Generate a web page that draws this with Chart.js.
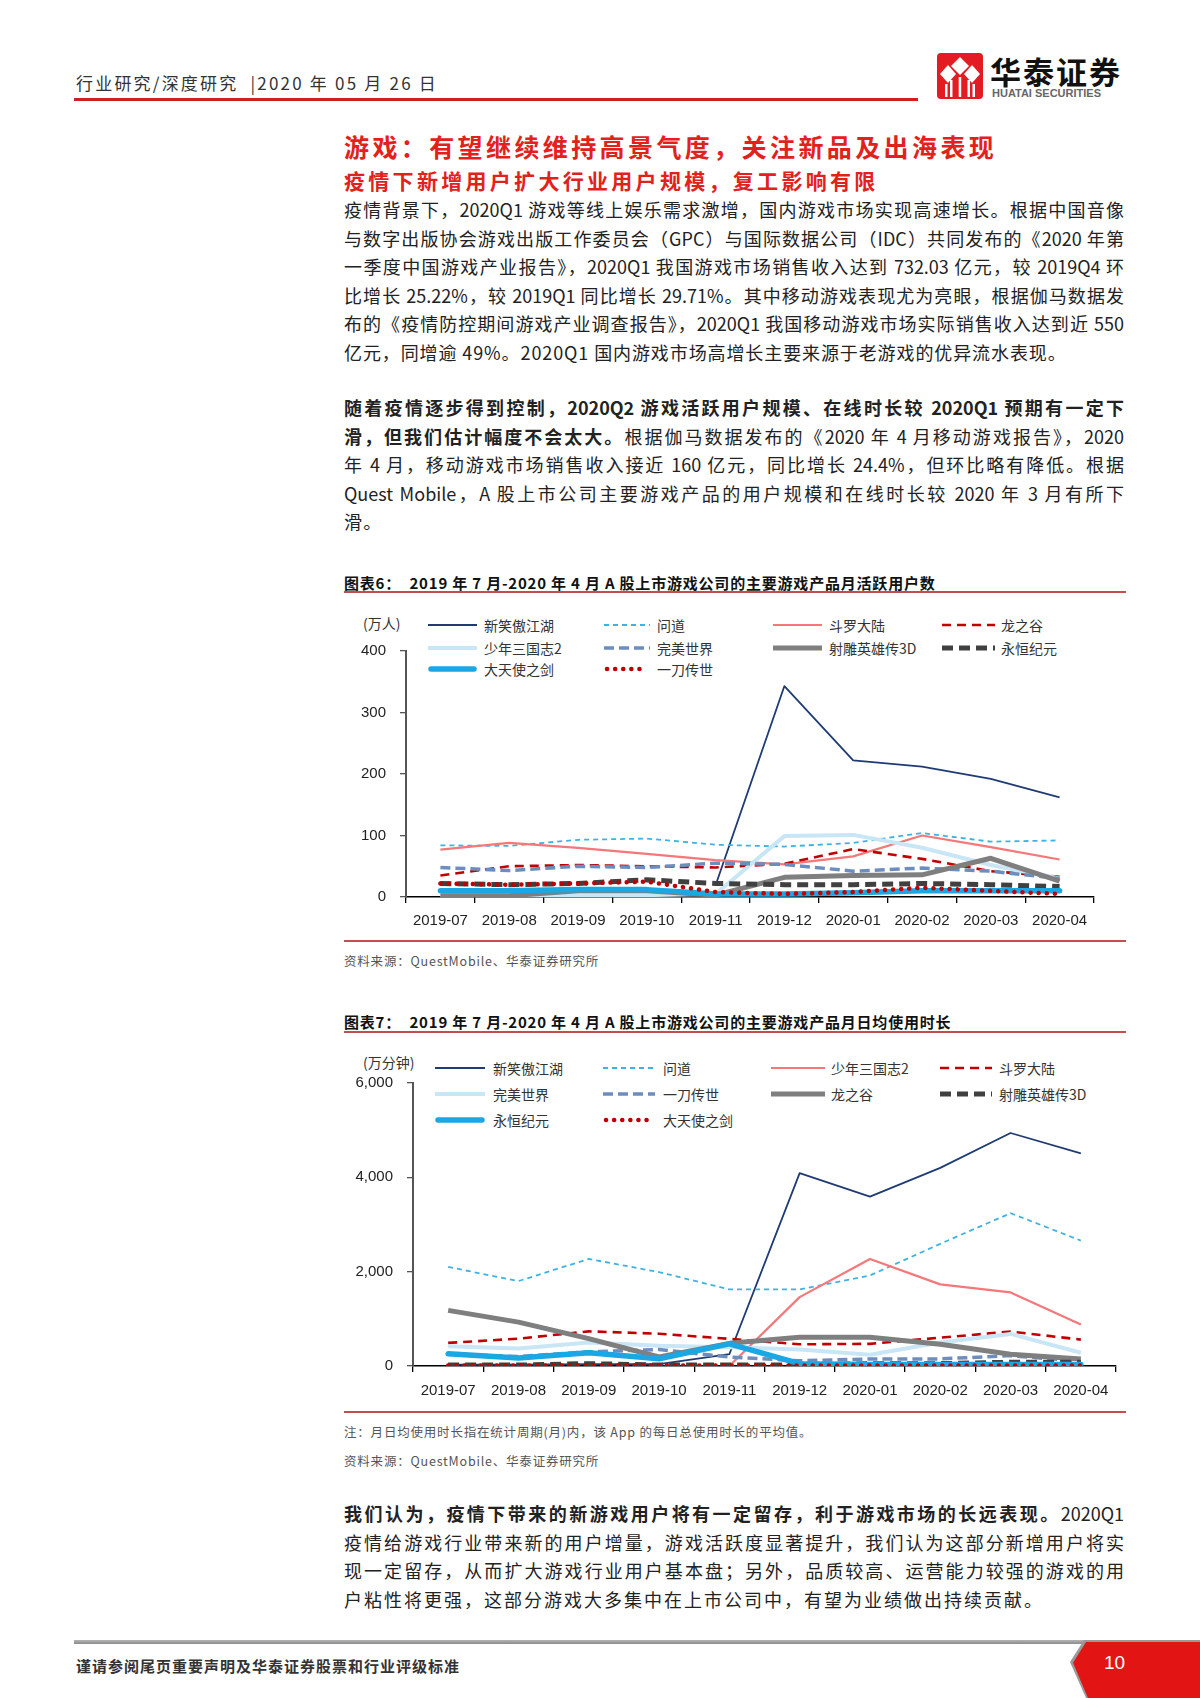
<!DOCTYPE html>
<html>
<head>
<meta charset="utf-8">
<script src="https://cdn.jsdelivr.net/npm/chart.js@4.4.0/dist/chart.umd.min.js"></script>
<style>
  body { margin: 0; width: 1200px; height: 1698px; position: relative; background: #fff; overflow: hidden;
         font-family: "Noto Sans CJK SC", "Noto Sans", sans-serif; color: #222; }
  .abs { position: absolute; }
  .hdr { left: 76px; top: 70px; font-size: 17px; letter-spacing: 2.2px; color: #333; white-space: nowrap; }
  .red-rule { background: #D01F1F; }
  .h1 { left: 344px; top: 128px; font-size: 25px; font-weight: bold; color: #E3211C; letter-spacing: 3.4px; white-space: nowrap; }
  .h2 { left: 344px; top: 165px; font-size: 21px; font-weight: bold; color: #E3211C; letter-spacing: 3.3px; white-space: nowrap; }
  .para { left: 344px; width: 780px; font-size: 18px; line-height: 28.5px; }
  .para div { white-space: nowrap; text-align: justify; text-align-last: justify; }
  .para div.last { text-align-last: left; letter-spacing: 1.2px; }
  .para b { font-weight: bold; }
  .ttl { left: 344px; font-size: 15px; font-weight: bold; letter-spacing: 0.8px; color: #111; white-space: nowrap; }
  .rule2 { left: 344px; width: 782px; height: 2px; background: #C0504D; }
  .src { left: 344px; font-size: 12.5px; color: #555; letter-spacing: 0.8px; white-space: nowrap; }
  .unit { font-size: 14px; color: #333; white-space: nowrap; }
  .lg { position: absolute; font-size: 14px; color: #333; white-space: nowrap; line-height: 20px; }
  .chartbox { position: absolute; }
</style>
</head>
<body>

<!-- header -->
<div class="abs hdr">行业研究/深度研究 &nbsp;|2020 年 05 月 26 日</div>
<div class="abs red-rule" style="left:74px;top:98px;width:844px;height:3px;"></div>
<svg class="abs" style="left:937px;top:53px" width="46" height="46">
  <rect x="0" y="0" width="46" height="46" rx="4" fill="#E31B23"/>
  <polygon points="23,4 32,13 23,22 14,13" fill="#fff"/>
  <polygon points="11,12 19,21 11,30 3,21" fill="#fff"/>
  <polygon points="35,12 43,21 35,30 27,21" fill="#fff"/>
  <rect x="8" y="31" width="2.5" height="13" fill="#fff"/>
  <rect x="13" y="27" width="2.5" height="17" fill="#fff"/>
  <rect x="21.7" y="24" width="2.5" height="20" fill="#fff"/>
  <rect x="30.5" y="27" width="2.5" height="17" fill="#fff"/>
  <rect x="35.5" y="31" width="2.5" height="13" fill="#fff"/>
</svg>
<div class="abs" style="left:990px;top:48px;font-size:31px;font-weight:bold;color:#111;letter-spacing:2px;white-space:nowrap;">华泰证券</div>
<div class="abs" style="left:992px;top:87px;font-size:11px;font-weight:bold;color:#666;font-family:'Liberation Sans',Arial,sans-serif;white-space:nowrap;">HUATAI SECURITIES</div>

<!-- headings -->
<div class="abs h1">游戏：有望继续维持高景气度，关注新品及出海表现</div>
<div class="abs h2">疫情下新增用户扩大行业用户规模，复工影响有限</div>

<div class="abs para" style="top:195px;">
  <div>疫情背景下，2020Q1 游戏等线上娱乐需求激增，国内游戏市场实现高速增长。根据中国音像</div>
  <div>与数字出版协会游戏出版工作委员会（GPC）与国际数据公司（IDC）共同发布的《2020 年第</div>
  <div>一季度中国游戏产业报告》，2020Q1 我国游戏市场销售收入达到 732.03 亿元，较 2019Q4 环</div>
  <div>比增长 25.22%，较 2019Q1 同比增长 29.71%。其中移动游戏表现尤为亮眼，根据伽马数据发</div>
  <div>布的《疫情防控期间游戏产业调查报告》，2020Q1 我国移动游戏市场实际销售收入达到近 550</div>
  <div class="last" style="letter-spacing:0.9px;">亿元，同增逾 49%。2020Q1 国内游戏市场高增长主要来源于老游戏的优异流水表现。</div>
</div>

<div class="abs para" style="top:393px;">
  <div><b>随着疫情逐步得到控制，2020Q2 游戏活跃用户规模、在线时长较 2020Q1 预期有一定下</b></div>
  <div><b>滑，但我们估计幅度不会太大。</b>根据伽马数据发布的《2020 年 4 月移动游戏报告》，2020</div>
  <div>年 4 月，移动游戏市场销售收入接近 160 亿元，同比增长 24.4%，但环比略有降低。根据</div>
  <div>Quest Mobile，A 股上市公司主要游戏产品的用户规模和在线时长较 2020 年 3 月有所下</div>
  <div class="last">滑。</div>
</div>

<!-- chart 6 -->
<div class="abs ttl" style="top:572px;">图表6：&nbsp; 2019 年 7 月-2020 年 4 月 A 股上市游戏公司的主要游戏产品月活跃用户数</div>
<div class="abs rule2" style="top:591px;"></div>
<div class="abs unit" style="left:363px;top:613px;">(万人)</div>
<div id="legend1"></div>
<div class="chartbox" style="left:340px;top:640px;width:770px;height:300px;"><canvas id="c1"></canvas></div>
<div class="abs rule2" style="top:940px;"></div>
<div class="abs src" style="top:951px;">资料来源：QuestMobile、华泰证券研究所</div>

<!-- chart 7 -->
<div class="abs ttl" style="top:1011px;">图表7：&nbsp; 2019 年 7 月-2020 年 4 月 A 股上市游戏公司的主要游戏产品月日均使用时长</div>
<div class="abs rule2" style="top:1031px;"></div>
<div class="abs unit" style="left:363px;top:1052px;">(万分钟)</div>
<div id="legend2"></div>
<div class="chartbox" style="left:340px;top:1070px;width:800px;height:340px;"><canvas id="c2"></canvas></div>
<div class="abs rule2" style="top:1411px;"></div>
<div class="abs src" style="top:1422px;">注：月日均使用时长指在统计周期(月)内，该 App 的每日总使用时长的平均值。</div>
<div class="abs src" style="top:1451px;">资料来源：QuestMobile、华泰证券研究所</div>

<div class="abs para" style="top:1499px;">
  <div><b>我们认为，疫情下带来的新游戏用户将有一定留存，利于游戏市场的长远表现。</b>2020Q1</div>
  <div>疫情给游戏行业带来新的用户增量，游戏活跃度显著提升，我们认为这部分新增用户将实</div>
  <div>现一定留存，从而扩大游戏行业用户基本盘；另外，品质较高、运营能力较强的游戏的用</div>
  <div class="last" style="letter-spacing:2px;">户粘性将更强，这部分游戏大多集中在上市公司中，有望为业绩做出持续贡献。</div>
</div>

<!-- footer -->
<div class="abs" style="left:74px;top:1640px;width:1012px;height:4px;background:linear-gradient(#b5b5b5,#8a8a8a);"></div>
<div class="abs" style="left:76px;top:1655px;font-size:15px;font-weight:bold;color:#333;letter-spacing:1px;white-space:nowrap;">谨请参阅尾页重要声明及华泰证券股票和行业评级标准</div>
<div class="abs" style="left:1070px;top:1640px;width:130px;height:58px;background:#999;clip-path:polygon(14px 0,100% 0,100% 100%,16px 100%,0 38%);"></div>
<div class="abs" style="left:1073px;top:1642px;width:127px;height:56px;background:#E31414;clip-path:polygon(13px 0,100% 0,100% 100%,15px 100%,0 37%);"></div>
<div class="abs" style="left:1104px;top:1652px;font-size:19px;color:#fff;font-family:'Liberation Sans',Arial,sans-serif;">10</div>

<script>
const months = ['2019-07', '2019-08', '2019-09', '2019-10', '2019-11', '2019-12', '2020-01', '2020-02', '2020-03', '2020-04'];

// 图表6 月活跃用户数 (万人)
const mauNames = ['新笑傲江湖', '问道', '斗罗大陆', '龙之谷', '少年三国志2', '完美世界', '射雕英雄传3D', '永恒纪元', '大天使之剑', '一刀传世'];
const mauXiaoao = [null, null, null, null, 19, 343, 222, 212, 192, 162];
const mauWendao = [84, 83, 93, 95, 85, 82, 88, 104, 90, 92];
const mauDouluo = [77, 88, 80, 70, 60, 53, 66, 100, 81, 61];
const mauLongzhigu = [35, 50, 52, 50, 48, 54, 78, 62, 42, 33];
const mauShaonian = [2, 2, 3, 3, 5, 99, 101, 80, 52, 30];
const mauWanmei = [48, 43, 50, 48, 55, 53, 42, 47, 42, 30];
const mauShediao = [2, 2, 10, 10, 3, 32, 35, 36, 63, 26];
const mauYongheng = [22, 20, 22, 28, 22, 20, 20, 22, 20, 17];
const mauDatianshi = [10, 10, 12, 12, 5, 5, 7, 10, 10, 10];
const mauYidao = [22, 20, 22, 25, 8, 5, 8, 15, 10, 5];
const mauTicks = [0, 100, 200, 300, 400];

// 图表7 月日均使用时长 (万分钟)
const timeNames = ['新笑傲江湖', '问道', '少年三国志2', '斗罗大陆', '完美世界', '一刀传世', '龙之谷', '射雕英雄传3D', '永恒纪元', '大天使之剑'];
const timeXiaoao = [30, 30, 40, 40, 250, 4090, 3590, 4200, 4940, 4510];
const timeWendao = [2100, 1800, 2270, 1990, 1625, 1625, 1920, 2590, 3240, 2660];
const timeShaonian = [null, null, null, null, 0, 1460, 2270, 1730, 1560, 880];
const timeDouluo = [490, 580, 735, 685, 575, 460, 470, 600, 730, 560];
const timeWanmei = [420, 370, 500, 430, 400, 350, 240, 500, 680, 280];
const timeYidao = [250, 200, 300, 350, 190, 110, 150, 150, 220, 100];
const timeLongzhigu = [1180, 930, 580, 190, 480, 610, 610, 460, 250, 150];
const timeShediao = [20, 20, 50, 20, 20, 20, 50, 50, 80, 80];
const timeYongheng = [260, 170, 280, 155, 470, 50, 30, 30, 30, 30];
const timeDatianshi = [10, 10, 10, 10, 10, 10, 10, 10, 10, 10];
const timeTicks = [0, 2000, 4000, 6000];

// line styles by legend slot (same order in both charts)
const styles = [
  { color: '#1F3B73', width: 1.8, dash: [] },
  { color: '#3FB2E4', width: 1.8, dash: [5, 4] },
  { color: '#F4777A', width: 2.2, dash: [] },
  { color: '#C00000', width: 2.6, dash: [9, 6] },
  { color: '#C9E6F6', width: 4, dash: [] },
  { color: '#6D8DBE', width: 3.5, dash: [10, 5] },
  { color: '#7F7F7F', width: 5, dash: [] },
  { color: '#404040', width: 5, dash: [11, 6] },
  { color: '#1AA7E3', width: 5.5, dash: [], cap: 'round' },
  { color: '#C00000', width: 4.5, dash: [0.1, 8], cap: 'round' },
];

function buildLegend(id, names, lineX, textX, rowY) {
  const host = document.getElementById(id);
  names.forEach((name, i) => {
    const s = styles[i];
    const col = i % 4, row = Math.floor(i / 4);
    const w = lineX[col][1] - lineX[col][0];
    const svg = `<svg class="abs" style="left:${lineX[col][0]}px;top:${rowY[row] - 6}px" width="${w}" height="12">
      <line x1="${s.cap === 'round' ? 3 : 0}" y1="6" x2="${s.cap === 'round' ? w - 3 : w}" y2="6" stroke="${s.color}" stroke-width="${s.width}"
        stroke-dasharray="${s.dash.join(' ')}" stroke-linecap="${s.cap || 'butt'}"/></svg>`;
    host.insertAdjacentHTML('beforeend', svg);
    host.insertAdjacentHTML('beforeend', `<div class="lg" style="left:${textX[col]}px;top:${rowY[row] - 10}px">${name}</div>`);
  });
}

buildLegend('legend1', mauNames, [[428, 477], [604, 650], [773, 822], [942, 995]], [484, 657, 829, 1001], [625, 648, 669]);
buildLegend('legend2', timeNames, [[435, 485], [603, 655], [771, 825], [940, 992]], [493, 663, 831, 999], [1068, 1094, 1120]);

function makeDatasets(series) {
  return series.map((data, i) => ({
    data: data,
    borderColor: styles[i].color,
    borderWidth: styles[i].width,
    borderDash: styles[i].dash,
    borderCapStyle: styles[i].cap || 'butt',
    borderJoinStyle: 'round',
    pointRadius: 0,
    tension: 0,
    fill: false,
    order: series.length - i,
  }));
}

function makeChart(id, series, ticks, opt) {
  return new Chart(document.getElementById(id), {
    type: 'line',
    data: { labels: months, datasets: makeDatasets(series) },
    options: {
      responsive: true,
      maintainAspectRatio: false,
      animation: false,
      layout: { padding: { left: 0, right: opt.padRight, top: opt.padTop, bottom: 0 } },
      plugins: { legend: { display: false }, tooltip: { enabled: false } },
      scales: {
        x: {
          offset: true,
          grid: { display: true, offset: true, drawOnChartArea: false, drawTicks: true, tickLength: 6, color: '#000', lineWidth: 1.3 },
          border: { display: true, color: '#000', width: 1.6 },
          ticks: { color: '#222', font: { family: 'Liberation Sans', size: 15 }, padding: opt.xPad, maxRotation: 0, autoSkip: false },
          afterFit: (s) => { s.height = opt.xHeight; },
        },
        y: {
          min: 0,
          max: ticks[ticks.length - 1],
          afterBuildTicks: (s) => { s.ticks = ticks.map(v => ({ value: v })); },
          grid: { display: true, drawOnChartArea: false, drawTicks: true, tickLength: 6, color: '#555', lineWidth: 1.3 },
          border: { display: true, color: '#555', width: 2 },
          ticks: {
            color: '#222', font: { family: 'Liberation Sans', size: 15 }, padding: opt.yPad,
            callback: (v) => v.toLocaleString('en-US'),
          },
          afterFit: (s) => { s.width = opt.yWidth; s.paddingTop = 0; s.paddingBottom = 0; },
        },
      },
    },
  });
}

makeChart('c1',
  [mauXiaoao, mauWendao, mauDouluo, mauLongzhigu, mauShaonian, mauWanmei, mauShediao, mauYongheng, mauDatianshi, mauYidao],
  mauTicks, { padRight: 16, padTop: 11, xHeight: 43, yWidth: 66, yPad: 14, xPad: 9 });

makeChart('c2',
  [timeXiaoao, timeWendao, timeShaonian, timeDouluo, timeWanmei, timeYidao, timeLongzhigu, timeShediao, timeYongheng, timeDatianshi],
  timeTicks, { padRight: 24, padTop: 13, xHeight: 44, yWidth: 73, yPad: 14, xPad: 10 });
</script>
</body>
</html>
